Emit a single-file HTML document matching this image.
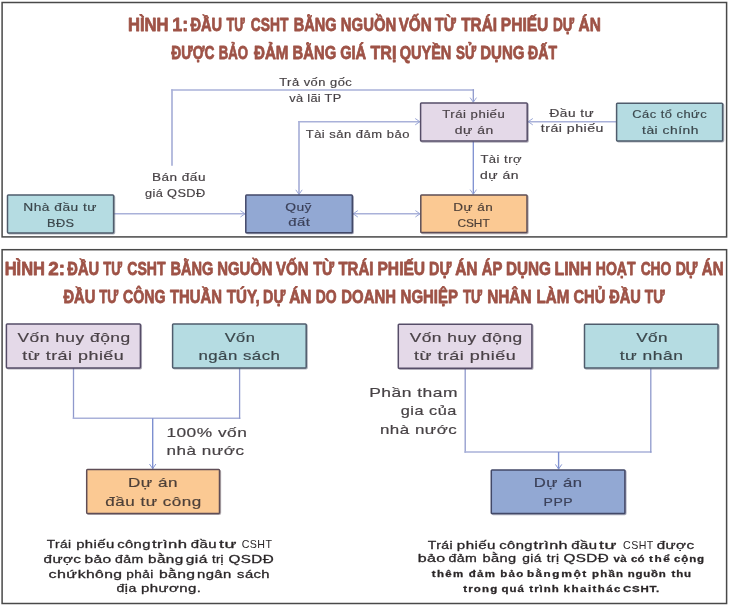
<!DOCTYPE html>
<html><head><meta charset="utf-8"><title>Hinh 1-2</title>
<style>
html,body{margin:0;padding:0;background:#fff;}
svg{display:block;font-family:"Liberation Sans",sans-serif;}
text{white-space:pre;}
</style></head>
<body>
<svg width="730" height="607" viewBox="0 0 730 607">
<defs><filter id="soft" x="0" y="0" width="730" height="607" filterUnits="userSpaceOnUse"><feGaussianBlur stdDeviation="0.4"/></filter></defs>
<rect x="0" y="0" width="730" height="607" fill="#ffffff"/>
<g filter="url(#soft)">
<rect x="-5" y="-5" width="740" height="617" fill="#ffffff"/>
<rect x="2.1" y="2.5" width="724.5" height="234.4" fill="#fff" stroke="#484848" stroke-width="1.5"/>
<rect x="2.1" y="249.7" width="724.5" height="353.8" fill="#fff" stroke="#484848" stroke-width="1.5"/>
<text x="128.01" y="31.4" font-size="19" fill="#9e5246" font-weight="bold" stroke="#9e5246" stroke-width="0.8" stroke-linejoin="round" textLength="40.51" lengthAdjust="spacingAndGlyphs">HÌNH</text>
<text x="172.30" y="31.4" font-size="19" fill="#9e5246" font-weight="bold" stroke="#9e5246" stroke-width="0.8" stroke-linejoin="round" textLength="15.81" lengthAdjust="spacingAndGlyphs">1:</text>
<text x="190.46" y="31.4" font-size="19" fill="#9e5246" font-weight="bold" stroke="#9e5246" stroke-width="0.8" stroke-linejoin="round" textLength="31.63" lengthAdjust="spacingAndGlyphs">ĐẦU</text>
<text x="226.46" y="31.4" font-size="19" fill="#9e5246" font-weight="bold" stroke="#9e5246" stroke-width="0.8" stroke-linejoin="round" textLength="18.23" lengthAdjust="spacingAndGlyphs">TƯ</text>
<text x="250.73" y="31.4" font-size="19" fill="#9e5246" font-weight="bold" stroke="#9e5246" stroke-width="0.8" stroke-linejoin="round" textLength="37.61" lengthAdjust="spacingAndGlyphs">CSHT</text>
<text x="293.84" y="31.4" font-size="19" fill="#9e5246" font-weight="bold" stroke="#9e5246" stroke-width="0.8" stroke-linejoin="round" textLength="42.85" lengthAdjust="spacingAndGlyphs">BẰNG</text>
<text x="340.82" y="31.4" font-size="19" fill="#9e5246" font-weight="bold" stroke="#9e5246" stroke-width="0.8" stroke-linejoin="round" textLength="55.49" lengthAdjust="spacingAndGlyphs">NGUỒN</text>
<text x="398.71" y="31.4" font-size="19" fill="#9e5246" font-weight="bold" stroke="#9e5246" stroke-width="0.8" stroke-linejoin="round" textLength="33.01" lengthAdjust="spacingAndGlyphs">VỐN</text>
<text x="434.84" y="31.4" font-size="19" fill="#9e5246" font-weight="bold" stroke="#9e5246" stroke-width="0.8" stroke-linejoin="round" textLength="21.15" lengthAdjust="spacingAndGlyphs">TỪ</text>
<text x="461.13" y="31.4" font-size="19" fill="#9e5246" font-weight="bold" stroke="#9e5246" stroke-width="0.8" stroke-linejoin="round" textLength="35.90" lengthAdjust="spacingAndGlyphs">TRÁI</text>
<text x="500.77" y="31.4" font-size="19" fill="#9e5246" font-weight="bold" stroke="#9e5246" stroke-width="0.8" stroke-linejoin="round" textLength="47.56" lengthAdjust="spacingAndGlyphs">PHIẾU</text>
<text x="553.00" y="31.4" font-size="19" fill="#9e5246" font-weight="bold" stroke="#9e5246" stroke-width="0.8" stroke-linejoin="round" textLength="21.20" lengthAdjust="spacingAndGlyphs">DỰ</text>
<text x="578.53" y="31.4" font-size="19" fill="#9e5246" font-weight="bold" stroke="#9e5246" stroke-width="0.8" stroke-linejoin="round" textLength="22.31" lengthAdjust="spacingAndGlyphs">ÁN</text>
<text x="171.26" y="58.6" font-size="19" fill="#9e5246" font-weight="bold" stroke="#9e5246" stroke-width="0.8" stroke-linejoin="round" textLength="43.11" lengthAdjust="spacingAndGlyphs">ĐƯỢC</text>
<text x="218.63" y="58.6" font-size="19" fill="#9e5246" font-weight="bold" stroke="#9e5246" stroke-width="0.8" stroke-linejoin="round" textLength="29.33" lengthAdjust="spacingAndGlyphs">BẢO</text>
<text x="253.95" y="58.6" font-size="19" fill="#9e5246" font-weight="bold" stroke="#9e5246" stroke-width="0.8" stroke-linejoin="round" textLength="34.55" lengthAdjust="spacingAndGlyphs">ĐẢM</text>
<text x="292.62" y="58.6" font-size="19" fill="#9e5246" font-weight="bold" stroke="#9e5246" stroke-width="0.8" stroke-linejoin="round" textLength="43.59" lengthAdjust="spacingAndGlyphs">BẰNG</text>
<text x="340.20" y="58.6" font-size="19" fill="#9e5246" font-weight="bold" stroke="#9e5246" stroke-width="0.8" stroke-linejoin="round" textLength="25.98" lengthAdjust="spacingAndGlyphs">GIÁ</text>
<text x="370.52" y="58.6" font-size="19" fill="#9e5246" font-weight="bold" stroke="#9e5246" stroke-width="0.8" stroke-linejoin="round" textLength="25.85" lengthAdjust="spacingAndGlyphs">TRỊ</text>
<text x="399.70" y="58.6" font-size="19" fill="#9e5246" font-weight="bold" stroke="#9e5246" stroke-width="0.8" stroke-linejoin="round" textLength="51.67" lengthAdjust="spacingAndGlyphs">QUYỀN</text>
<text x="456.02" y="58.6" font-size="19" fill="#9e5246" font-weight="bold" stroke="#9e5246" stroke-width="0.8" stroke-linejoin="round" textLength="20.07" lengthAdjust="spacingAndGlyphs">SỬ</text>
<text x="480.21" y="58.6" font-size="19" fill="#9e5246" font-weight="bold" stroke="#9e5246" stroke-width="0.8" stroke-linejoin="round" textLength="44.21" lengthAdjust="spacingAndGlyphs">DỤNG</text>
<text x="528.06" y="58.6" font-size="19" fill="#9e5246" font-weight="bold" stroke="#9e5246" stroke-width="0.8" stroke-linejoin="round" textLength="28.99" lengthAdjust="spacingAndGlyphs">ĐẤT</text>
<text x="4.71" y="275.4" font-size="19" fill="#9e5246" font-weight="bold" stroke="#9e5246" stroke-width="0.8" stroke-linejoin="round" textLength="40.30" lengthAdjust="spacingAndGlyphs">HÌNH</text>
<text x="48.36" y="275.4" font-size="19" fill="#9e5246" font-weight="bold" stroke="#9e5246" stroke-width="0.8" stroke-linejoin="round" textLength="16.75" lengthAdjust="spacingAndGlyphs">2:</text>
<text x="67.36" y="275.4" font-size="19" fill="#9e5246" font-weight="bold" stroke="#9e5246" stroke-width="0.8" stroke-linejoin="round" textLength="31.83" lengthAdjust="spacingAndGlyphs">ĐẦU</text>
<text x="103.36" y="275.4" font-size="19" fill="#9e5246" font-weight="bold" stroke="#9e5246" stroke-width="0.8" stroke-linejoin="round" textLength="18.74" lengthAdjust="spacingAndGlyphs">TƯ</text>
<text x="127.32" y="275.4" font-size="19" fill="#9e5246" font-weight="bold" stroke="#9e5246" stroke-width="0.8" stroke-linejoin="round" textLength="38.22" lengthAdjust="spacingAndGlyphs">CSHT</text>
<text x="170.44" y="275.4" font-size="19" fill="#9e5246" font-weight="bold" stroke="#9e5246" stroke-width="0.8" stroke-linejoin="round" textLength="42.96" lengthAdjust="spacingAndGlyphs">BẰNG</text>
<text x="217.22" y="275.4" font-size="19" fill="#9e5246" font-weight="bold" stroke="#9e5246" stroke-width="0.8" stroke-linejoin="round" textLength="55.38" lengthAdjust="spacingAndGlyphs">NGUỒN</text>
<text x="275.91" y="275.4" font-size="19" fill="#9e5246" font-weight="bold" stroke="#9e5246" stroke-width="0.8" stroke-linejoin="round" textLength="32.70" lengthAdjust="spacingAndGlyphs">VỐN</text>
<text x="313.14" y="275.4" font-size="19" fill="#9e5246" font-weight="bold" stroke="#9e5246" stroke-width="0.8" stroke-linejoin="round" textLength="21.05" lengthAdjust="spacingAndGlyphs">TỪ</text>
<text x="338.44" y="275.4" font-size="19" fill="#9e5246" font-weight="bold" stroke="#9e5246" stroke-width="0.8" stroke-linejoin="round" textLength="34.97" lengthAdjust="spacingAndGlyphs">TRÁI</text>
<text x="377.47" y="275.4" font-size="19" fill="#9e5246" font-weight="bold" stroke="#9e5246" stroke-width="0.8" stroke-linejoin="round" textLength="47.67" lengthAdjust="spacingAndGlyphs">PHIẾU</text>
<text x="429.05" y="275.4" font-size="19" fill="#9e5246" font-weight="bold" stroke="#9e5246" stroke-width="0.8" stroke-linejoin="round" textLength="22.35" lengthAdjust="spacingAndGlyphs">DỰ</text>
<text x="455.13" y="275.4" font-size="19" fill="#9e5246" font-weight="bold" stroke="#9e5246" stroke-width="0.8" stroke-linejoin="round" textLength="22.31" lengthAdjust="spacingAndGlyphs">ÁN</text>
<text x="481.84" y="275.4" font-size="19" fill="#9e5246" font-weight="bold" stroke="#9e5246" stroke-width="0.8" stroke-linejoin="round" textLength="20.67" lengthAdjust="spacingAndGlyphs">ÁP</text>
<text x="505.89" y="275.4" font-size="19" fill="#9e5246" font-weight="bold" stroke="#9e5246" stroke-width="0.8" stroke-linejoin="round" textLength="45.05" lengthAdjust="spacingAndGlyphs">DỤNG</text>
<text x="554.45" y="275.4" font-size="19" fill="#9e5246" font-weight="bold" stroke="#9e5246" stroke-width="0.8" stroke-linejoin="round" textLength="37.12" lengthAdjust="spacingAndGlyphs">LINH</text>
<text x="595.77" y="275.4" font-size="19" fill="#9e5246" font-weight="bold" stroke="#9e5246" stroke-width="0.8" stroke-linejoin="round" textLength="39.77" lengthAdjust="spacingAndGlyphs">HOẠT</text>
<text x="640.63" y="275.4" font-size="19" fill="#9e5246" font-weight="bold" stroke="#9e5246" stroke-width="0.8" stroke-linejoin="round" textLength="30.75" lengthAdjust="spacingAndGlyphs">CHO</text>
<text x="675.67" y="275.4" font-size="19" fill="#9e5246" font-weight="bold" stroke="#9e5246" stroke-width="0.8" stroke-linejoin="round" textLength="21.82" lengthAdjust="spacingAndGlyphs">DỰ</text>
<text x="701.74" y="275.4" font-size="19" fill="#9e5246" font-weight="bold" stroke="#9e5246" stroke-width="0.8" stroke-linejoin="round" textLength="21.88" lengthAdjust="spacingAndGlyphs">ÁN</text>
<text x="63.46" y="303.2" font-size="19" fill="#9e5246" font-weight="bold" stroke="#9e5246" stroke-width="0.8" stroke-linejoin="round" textLength="31.94" lengthAdjust="spacingAndGlyphs">ĐẦU</text>
<text x="99.25" y="303.2" font-size="19" fill="#9e5246" font-weight="bold" stroke="#9e5246" stroke-width="0.8" stroke-linejoin="round" textLength="19.04" lengthAdjust="spacingAndGlyphs">TƯ</text>
<text x="123.12" y="303.2" font-size="19" fill="#9e5246" font-weight="bold" stroke="#9e5246" stroke-width="0.8" stroke-linejoin="round" textLength="42.46" lengthAdjust="spacingAndGlyphs">CÔNG</text>
<text x="169.94" y="303.2" font-size="19" fill="#9e5246" font-weight="bold" stroke="#9e5246" stroke-width="0.8" stroke-linejoin="round" textLength="52.17" lengthAdjust="spacingAndGlyphs">THUẦN</text>
<text x="226.83" y="303.2" font-size="19" fill="#9e5246" font-weight="bold" stroke="#9e5246" stroke-width="0.8" stroke-linejoin="round" textLength="32.78" lengthAdjust="spacingAndGlyphs">TÚY,</text>
<text x="263.05" y="303.2" font-size="19" fill="#9e5246" font-weight="bold" stroke="#9e5246" stroke-width="0.8" stroke-linejoin="round" textLength="22.24" lengthAdjust="spacingAndGlyphs">DỰ</text>
<text x="289.13" y="303.2" font-size="19" fill="#9e5246" font-weight="bold" stroke="#9e5246" stroke-width="0.8" stroke-linejoin="round" textLength="22.42" lengthAdjust="spacingAndGlyphs">ÁN</text>
<text x="315.68" y="303.2" font-size="19" fill="#9e5246" font-weight="bold" stroke="#9e5246" stroke-width="0.8" stroke-linejoin="round" textLength="20.91" lengthAdjust="spacingAndGlyphs">DO</text>
<text x="341.32" y="303.2" font-size="19" fill="#9e5246" font-weight="bold" stroke="#9e5246" stroke-width="0.8" stroke-linejoin="round" textLength="54.69" lengthAdjust="spacingAndGlyphs">DOANH</text>
<text x="400.61" y="303.2" font-size="19" fill="#9e5246" font-weight="bold" stroke="#9e5246" stroke-width="0.8" stroke-linejoin="round" textLength="57.40" lengthAdjust="spacingAndGlyphs">NGHIỆP</text>
<text x="462.95" y="303.2" font-size="19" fill="#9e5246" font-weight="bold" stroke="#9e5246" stroke-width="0.8" stroke-linejoin="round" textLength="19.14" lengthAdjust="spacingAndGlyphs">TƯ</text>
<text x="487.19" y="303.2" font-size="19" fill="#9e5246" font-weight="bold" stroke="#9e5246" stroke-width="0.8" stroke-linejoin="round" textLength="44.34" lengthAdjust="spacingAndGlyphs">NHÂN</text>
<text x="536.60" y="303.2" font-size="19" fill="#9e5246" font-weight="bold" stroke="#9e5246" stroke-width="0.8" stroke-linejoin="round" textLength="32.80" lengthAdjust="spacingAndGlyphs">LÀM</text>
<text x="573.50" y="303.2" font-size="19" fill="#9e5246" font-weight="bold" stroke="#9e5246" stroke-width="0.8" stroke-linejoin="round" textLength="31.79" lengthAdjust="spacingAndGlyphs">CHỦ</text>
<text x="609.16" y="303.2" font-size="19" fill="#9e5246" font-weight="bold" stroke="#9e5246" stroke-width="0.8" stroke-linejoin="round" textLength="31.73" lengthAdjust="spacingAndGlyphs">ĐẦU</text>
<text x="644.75" y="303.2" font-size="19" fill="#9e5246" font-weight="bold" stroke="#9e5246" stroke-width="0.8" stroke-linejoin="round" textLength="19.94" lengthAdjust="spacingAndGlyphs">TƯ</text>
<line x1="172.0" y1="165.0" x2="172.0" y2="90.0" stroke="#8f99cc" stroke-width="1.3" stroke-linecap="square"/><line x1="172.0" y1="90.0" x2="473.3" y2="90.0" stroke="#a9b1d9" stroke-width="1.5" stroke-linecap="square"/><line x1="473.3" y1="90.0" x2="473.3" y2="101.5" stroke="#8f99cc" stroke-width="1.3" stroke-linecap="square"/>
<polyline points="470.1,97.6 473.3,102.2 476.5,97.6" fill="none" stroke="#9ba7d7" stroke-width="1.0" stroke-linejoin="miter"/>
<line x1="299.0" y1="194.0" x2="299.0" y2="121.7" stroke="#8f99cc" stroke-width="1.3" stroke-linecap="square"/><line x1="299.0" y1="121.7" x2="419.5" y2="121.7" stroke="#a9b1d9" stroke-width="1.5" stroke-linecap="square"/>
<polyline points="295.8,189.8 299.0,194.4 302.2,189.8" fill="none" stroke="#9ba7d7" stroke-width="1.0" stroke-linejoin="miter"/>
<polyline points="415.2,118.5 419.8,121.7 415.2,124.9" fill="none" stroke="#9ba7d7" stroke-width="1.0" stroke-linejoin="miter"/>
<line x1="528.6" y1="121.7" x2="616.0" y2="121.7" stroke="#a9b1d9" stroke-width="1.5" stroke-linecap="square"/>
<polyline points="532.8,118.5 528.2,121.7 532.8,124.9" fill="none" stroke="#9ba7d7" stroke-width="1.0" stroke-linejoin="miter"/>
<line x1="473.3" y1="141.8" x2="473.3" y2="193.8" stroke="#7d8fd0" stroke-width="1.3" stroke-linecap="square"/>
<polyline points="470.1,189.6 473.3,194.2 476.5,189.6" fill="none" stroke="#9ba7d7" stroke-width="1.0" stroke-linejoin="miter"/>
<line x1="114.5" y1="213.8" x2="244.5" y2="213.8" stroke="#a9b1d9" stroke-width="1.5" stroke-linecap="square"/>
<polyline points="240.4,210.6 245.0,213.8 240.4,217.0" fill="none" stroke="#9ba7d7" stroke-width="1.0" stroke-linejoin="miter"/>
<line x1="353.5" y1="213.8" x2="419.8" y2="213.8" stroke="#a9b1d9" stroke-width="1.5" stroke-linecap="square"/>
<polyline points="357.8,210.6 353.2,213.8 357.8,217.0" fill="none" stroke="#9ba7d7" stroke-width="1.0" stroke-linejoin="miter"/>
<polyline points="415.4,210.6 420.0,213.8 415.4,217.0" fill="none" stroke="#9ba7d7" stroke-width="1.0" stroke-linejoin="miter"/>
<rect x="421.5" y="103.8" width="106.6" height="38.1" rx="1" fill="none" stroke="#564e68" stroke-opacity="0.45" stroke-width="1.5"/><rect x="420.6" y="102.9" width="106.6" height="38.1" rx="0.8" fill="#e4d9e8" stroke="#564e68" stroke-width="1.5"/>
<rect x="617.5" y="104.1" width="106.0" height="37.7" rx="1" fill="none" stroke="#4f5c6c" stroke-opacity="0.45" stroke-width="1.5"/><rect x="616.6" y="103.2" width="106.0" height="37.7" rx="0.8" fill="#b5dce2" stroke="#4f5c6c" stroke-width="1.5"/>
<rect x="8.4" y="195.9" width="106.1" height="37.9" rx="1" fill="none" stroke="#4f5c6c" stroke-opacity="0.45" stroke-width="1.5"/><rect x="7.5" y="195.0" width="106.1" height="37.9" rx="0.8" fill="#b5dce2" stroke="#4f5c6c" stroke-width="1.5"/>
<rect x="246.7" y="196.0" width="106.5" height="37.6" rx="1" fill="none" stroke="#434868" stroke-opacity="0.45" stroke-width="1.5"/><rect x="245.8" y="195.1" width="106.5" height="37.6" rx="0.8" fill="#92a8d3" stroke="#434868" stroke-width="1.5"/>
<rect x="421.7" y="195.8" width="106.2" height="37.7" rx="1" fill="none" stroke="#5e4e56" stroke-opacity="0.45" stroke-width="1.5"/><rect x="420.8" y="194.9" width="106.2" height="37.7" rx="0.8" fill="#fbc993" stroke="#5e4e56" stroke-width="1.5"/>
<text transform="translate(442.31,117.8) scale(1.1630,1)" font-size="11.3" fill="#4a4247" font-weight="normal" stroke="#4a4247" stroke-width="0.18" stroke-linejoin="round" letter-spacing="0.430">Trái phiếu</text>
<text transform="translate(454.82,133.8) scale(1.2305,1)" font-size="11.3" fill="#4a4247" font-weight="normal" stroke="#4a4247" stroke-width="0.18" stroke-linejoin="round" letter-spacing="0.406">dự án</text>
<text transform="translate(632.16,117.9) scale(1.1416,1)" font-size="11.3" fill="#3b474c" font-weight="normal" stroke="#3b474c" stroke-width="0.18" stroke-linejoin="round" letter-spacing="0.438">Các tổ chức</text>
<text transform="translate(642.09,133.7) scale(1.2243,1)" font-size="11.3" fill="#3b474c" font-weight="normal" stroke="#3b474c" stroke-width="0.18" stroke-linejoin="round" letter-spacing="0.408">tài chính</text>
<text transform="translate(23.27,210.5) scale(1.2172,1)" font-size="11.3" fill="#3b474c" font-weight="normal" stroke="#3b474c" stroke-width="0.18" stroke-linejoin="round" letter-spacing="0.411">Nhà đầu tư</text>
<text transform="translate(47.05,226.8) scale(1.1300,1)" font-size="11.3" fill="#3b474c" font-weight="normal" stroke="#3b474c" stroke-width="0.18" stroke-linejoin="round" letter-spacing="0.340">BĐS</text>
<text transform="translate(285.15,210.8) scale(1.2246,1)" font-size="11.3" fill="#3b4159" font-weight="normal" stroke="#3b4159" stroke-width="0.18" stroke-linejoin="round" letter-spacing="0.408">Quỹ</text>
<text transform="translate(288.17,226.3) scale(1.3198,1)" font-size="11.3" fill="#3b4159" font-weight="normal" stroke="#3b4159" stroke-width="0.18" stroke-linejoin="round" letter-spacing="0.379">đất</text>
<text transform="translate(453.29,210.6) scale(1.1952,1)" font-size="11.3" fill="#4e4038" font-weight="normal" stroke="#4e4038" stroke-width="0.18" stroke-linejoin="round" letter-spacing="0.418">Dự án</text>
<text transform="translate(457.41,226.6) scale(1.0490,1)" font-size="11.3" fill="#4e4038" font-weight="normal" stroke="#4e4038" stroke-width="0.18" stroke-linejoin="round" letter-spacing="0.000">CSHT</text>
<text transform="translate(279.22,85.8) scale(1.1413,1)" font-size="11.3" fill="#474245" font-weight="normal" stroke="#474245" stroke-width="0.18" stroke-linejoin="round" letter-spacing="0.438">Trả vốn gốc</text>
<text transform="translate(289.26,102.2) scale(1.1300,1)" font-size="11.3" fill="#474245" font-weight="normal" stroke="#474245" stroke-width="0.18" stroke-linejoin="round" letter-spacing="0.283">và lãi TP</text>
<text transform="translate(305.71,138.1) scale(1.1502,1)" font-size="11.3" fill="#474245" font-weight="normal" stroke="#474245" stroke-width="0.18" stroke-linejoin="round" letter-spacing="0.435">Tài sản đảm bảo</text>
<text transform="translate(151.89,180.6) scale(1.2024,1)" font-size="11.3" fill="#474245" font-weight="normal" stroke="#474245" stroke-width="0.18" stroke-linejoin="round" letter-spacing="0.416">Bán đấu</text>
<text transform="translate(144.96,197.0) scale(1.1300,1)" font-size="11.3" fill="#474245" font-weight="normal" stroke="#474245" stroke-width="0.18" stroke-linejoin="round" letter-spacing="0.349">giá QSDĐ</text>
<text transform="translate(549.52,116.5) scale(1.2090,1)" font-size="11.3" fill="#474245" font-weight="normal" stroke="#474245" stroke-width="0.18" stroke-linejoin="round" letter-spacing="0.414">Đầu tư</text>
<text transform="translate(540.79,131.7) scale(1.2529,1)" font-size="11.3" fill="#474245" font-weight="normal" stroke="#474245" stroke-width="0.18" stroke-linejoin="round" letter-spacing="0.399">trái phiếu</text>
<text transform="translate(480.41,162.6) scale(1.1511,1)" font-size="11.3" fill="#474245" font-weight="normal" stroke="#474245" stroke-width="0.18" stroke-linejoin="round" letter-spacing="0.434">Tài trợ</text>
<text transform="translate(480.11,179.0) scale(1.2340,1)" font-size="11.3" fill="#474245" font-weight="normal" stroke="#474245" stroke-width="0.18" stroke-linejoin="round" letter-spacing="0.405">dự án</text>
<line x1="73.5" y1="368.5" x2="73.5" y2="418.2" stroke="#8f99cc" stroke-width="1.3" stroke-linecap="square"/><line x1="73.5" y1="418.2" x2="239.6" y2="418.2" stroke="#a9b1d9" stroke-width="1.5" stroke-linecap="square"/><line x1="239.6" y1="418.2" x2="239.6" y2="368.5" stroke="#8f99cc" stroke-width="1.3" stroke-linecap="square"/>
<line x1="152.7" y1="418.9" x2="152.7" y2="468.2" stroke="#7d8fd0" stroke-width="1.4" stroke-linecap="square"/>
<polyline points="149.5,464.0 152.7,468.6 155.9,464.0" fill="none" stroke="#8797d2" stroke-width="1.0" stroke-linejoin="miter"/>
<line x1="465.2" y1="369.0" x2="465.2" y2="452.0" stroke="#8f99cc" stroke-width="1.3" stroke-linecap="square"/><line x1="465.2" y1="452.0" x2="650.8" y2="452.0" stroke="#a9b1d9" stroke-width="1.5" stroke-linecap="square"/><line x1="650.8" y1="452.0" x2="650.8" y2="369.0" stroke="#8f99cc" stroke-width="1.3" stroke-linecap="square"/>
<line x1="558.6" y1="452.7" x2="558.6" y2="468.6" stroke="#7d8fd0" stroke-width="1.4" stroke-linecap="square"/>
<polyline points="555.4,464.4 558.6,469.0 561.8,464.4" fill="none" stroke="#8797d2" stroke-width="1.0" stroke-linejoin="miter"/>
<rect x="7.3" y="324.8" width="134.0" height="44.0" rx="1" fill="none" stroke="#564e68" stroke-opacity="0.45" stroke-width="1.5"/><rect x="6.4" y="323.9" width="134.0" height="44.0" rx="0.8" fill="#e4d9e8" stroke="#564e68" stroke-width="1.5"/>
<rect x="173.5" y="324.8" width="133.6" height="44.0" rx="1" fill="none" stroke="#4f5c6c" stroke-opacity="0.45" stroke-width="1.5"/><rect x="172.6" y="323.9" width="133.6" height="44.0" rx="0.8" fill="#b5dce2" stroke="#4f5c6c" stroke-width="1.5"/>
<rect x="399.2" y="325.1" width="133.6" height="44.1" rx="1" fill="none" stroke="#564e68" stroke-opacity="0.45" stroke-width="1.5"/><rect x="398.3" y="324.2" width="133.6" height="44.1" rx="0.8" fill="#e4d9e8" stroke="#564e68" stroke-width="1.5"/>
<rect x="585.4" y="325.1" width="133.5" height="43.9" rx="1" fill="none" stroke="#4f5c6c" stroke-opacity="0.45" stroke-width="1.5"/><rect x="584.5" y="324.2" width="133.5" height="43.9" rx="0.8" fill="#b5dce2" stroke="#4f5c6c" stroke-width="1.5"/>
<rect x="87.6" y="470.5" width="132.8" height="43.8" rx="1" fill="none" stroke="#5e4e56" stroke-opacity="0.45" stroke-width="1.5"/><rect x="86.7" y="469.6" width="132.8" height="43.8" rx="0.8" fill="#fbc993" stroke="#5e4e56" stroke-width="1.5"/>
<rect x="492.2" y="470.8" width="133.6" height="43.6" rx="1" fill="none" stroke="#434868" stroke-opacity="0.45" stroke-width="1.5"/><rect x="491.3" y="469.9" width="133.6" height="43.6" rx="0.8" fill="#92a8d3" stroke="#434868" stroke-width="1.5"/>
<text transform="translate(17.43,342.2) scale(1.3795,1)" font-size="12.6" fill="#4a4247" font-weight="normal" stroke="#4a4247" stroke-width="0.18" stroke-linejoin="round" letter-spacing="0.362">Vốn huy động</text>
<text transform="translate(22.23,359.8) scale(1.4219,1)" font-size="12.6" fill="#4a4247" font-weight="normal" stroke="#4a4247" stroke-width="0.18" stroke-linejoin="round" letter-spacing="0.352">từ trái phiếu</text>
<text transform="translate(224.63,341.8) scale(1.3081,1)" font-size="12.6" fill="#3b474c" font-weight="normal" stroke="#3b474c" stroke-width="0.18" stroke-linejoin="round" letter-spacing="0.382">Vốn</text>
<text transform="translate(198.39,360.0) scale(1.3343,1)" font-size="12.6" fill="#3b474c" font-weight="normal" stroke="#3b474c" stroke-width="0.18" stroke-linejoin="round" letter-spacing="0.375">ngân sách</text>
<text transform="translate(409.63,342.4) scale(1.3782,1)" font-size="12.6" fill="#4a4247" font-weight="normal" stroke="#4a4247" stroke-width="0.18" stroke-linejoin="round" letter-spacing="0.363">Vốn huy động</text>
<text transform="translate(413.93,360.2) scale(1.4249,1)" font-size="12.6" fill="#4a4247" font-weight="normal" stroke="#4a4247" stroke-width="0.18" stroke-linejoin="round" letter-spacing="0.351">từ trái phiếu</text>
<text transform="translate(636.13,342.2) scale(1.3637,1)" font-size="12.6" fill="#3b474c" font-weight="normal" stroke="#3b474c" stroke-width="0.18" stroke-linejoin="round" letter-spacing="0.367">Vốn</text>
<text transform="translate(619.74,360.2) scale(1.3844,1)" font-size="12.6" fill="#3b474c" font-weight="normal" stroke="#3b474c" stroke-width="0.18" stroke-linejoin="round" letter-spacing="0.361">tư nhân</text>
<text transform="translate(166.38,437.4) scale(1.3743,1)" font-size="12.6" fill="#474245" font-weight="normal" stroke="#474245" stroke-width="0.18" stroke-linejoin="round" letter-spacing="0.364">100% vốn</text>
<text transform="translate(166.57,455.2) scale(1.3565,1)" font-size="12.6" fill="#474245" font-weight="normal" stroke="#474245" stroke-width="0.18" stroke-linejoin="round" letter-spacing="0.369">nhà nước</text>
<text transform="translate(127.90,486.7) scale(1.3579,1)" font-size="12.6" fill="#4e4038" font-weight="normal" stroke="#4e4038" stroke-width="0.18" stroke-linejoin="round" letter-spacing="0.368">Dự án</text>
<text transform="translate(105.28,505.6) scale(1.3541,1)" font-size="12.6" fill="#4e4038" font-weight="normal" stroke="#4e4038" stroke-width="0.18" stroke-linejoin="round" letter-spacing="0.369">đầu tư công</text>
<text transform="translate(369.17,396.6) scale(1.3845,1)" font-size="12.6" fill="#474245" font-weight="normal" stroke="#474245" stroke-width="0.18" stroke-linejoin="round" letter-spacing="0.361">Phần tham</text>
<text transform="translate(400.71,415.3) scale(1.2966,1)" font-size="12.6" fill="#474245" font-weight="normal" stroke="#474245" stroke-width="0.18" stroke-linejoin="round" letter-spacing="0.386">gia của</text>
<text transform="translate(379.88,433.8) scale(1.3471,1)" font-size="12.6" fill="#474245" font-weight="normal" stroke="#474245" stroke-width="0.18" stroke-linejoin="round" letter-spacing="0.371">nhà nước</text>
<text transform="translate(533.63,486.5) scale(1.3248,1)" font-size="12.6" fill="#3b4159" font-weight="normal" stroke="#3b4159" stroke-width="0.18" stroke-linejoin="round" letter-spacing="0.377">Dự án</text>
<text transform="translate(543.55,505.8) scale(1.2419,1)" font-size="11.3" fill="#3b4159" font-weight="normal" stroke="#3b4159" stroke-width="0.18" stroke-linejoin="round" letter-spacing="0.403">PPP</text>
<text transform="translate(46.80,548.4) scale(1.1576,1)" font-size="11.8" fill="#2a2628" font-weight="normal" stroke="#2a2628" stroke-width="0.3" stroke-linejoin="round" letter-spacing="0.346">Trái</text>
<text transform="translate(76.15,548.4) scale(1.2619,1)" font-size="11.8" fill="#2a2628" font-weight="normal" stroke="#2a2628" stroke-width="0.3" stroke-linejoin="round" letter-spacing="0.317">phiếu</text>
<text transform="translate(117.18,548.4) scale(1.2494,1)" font-size="11.8" fill="#2a2628" font-weight="normal" stroke="#2a2628" stroke-width="0.3" stroke-linejoin="round" letter-spacing="0.320">công</text>
<text transform="translate(152.05,548.4) scale(1.4154,1)" font-size="11.8" fill="#2a2628" font-weight="normal" stroke="#2a2628" stroke-width="0.3" stroke-linejoin="round" letter-spacing="0.283">trình</text>
<text transform="translate(190.87,548.4) scale(1.2658,1)" font-size="11.8" fill="#2a2628" font-weight="normal" stroke="#2a2628" stroke-width="0.3" stroke-linejoin="round" letter-spacing="0.316">đầu</text>
<text transform="translate(219.03,548.4) scale(1.5126,1)" font-size="11.8" fill="#2a2628" font-weight="normal" stroke="#2a2628" stroke-width="0.3" stroke-linejoin="round" letter-spacing="0.264">tư</text>
<text transform="translate(241.67,548.4) scale(1.0683,1)" font-size="10.0" fill="#2a2628" font-weight="normal" letter-spacing="0.374">CSHT</text>
<text transform="translate(43.56,563.3) scale(1.2897,1)" font-size="11.8" fill="#2a2628" font-weight="normal" stroke="#2a2628" stroke-width="0.3" stroke-linejoin="round" letter-spacing="0.310">được</text>
<text transform="translate(84.40,563.3) scale(1.3230,1)" font-size="11.8" fill="#2a2628" font-weight="normal" stroke="#2a2628" stroke-width="0.3" stroke-linejoin="round" letter-spacing="0.302">bảo</text>
<text transform="translate(115.11,563.3) scale(1.1942,1)" font-size="11.8" fill="#2a2628" font-weight="normal" stroke="#2a2628" stroke-width="0.3" stroke-linejoin="round" letter-spacing="0.335">đảm</text>
<text transform="translate(148.02,563.3) scale(1.2938,1)" font-size="11.8" fill="#2a2628" font-weight="normal" stroke="#2a2628" stroke-width="0.3" stroke-linejoin="round" letter-spacing="0.309">bằng</text>
<text transform="translate(185.75,563.3) scale(1.3174,1)" font-size="11.8" fill="#2a2628" font-weight="normal" stroke="#2a2628" stroke-width="0.3" stroke-linejoin="round" letter-spacing="0.304">giá</text>
<text transform="translate(211.91,563.3) scale(1.1000,1)" font-size="11.8" fill="#2a2628" font-weight="normal" stroke="#2a2628" stroke-width="0.3" stroke-linejoin="round" letter-spacing="0.342">trị</text>
<text transform="translate(228.48,563.3) scale(1.2917,1)" font-size="11.8" fill="#2a2628" font-weight="normal" stroke="#2a2628" stroke-width="0.3" stroke-linejoin="round" letter-spacing="0.310">QSDĐ</text>
<text transform="translate(48.52,577.7) scale(1.3637,1)" font-size="11.8" fill="#2a2628" font-weight="normal" stroke="#2a2628" stroke-width="0.3" stroke-linejoin="round" letter-spacing="0.293">chứ</text>
<text transform="translate(77.75,577.7) scale(1.3302,1)" font-size="11.8" fill="#2a2628" font-weight="normal" stroke="#2a2628" stroke-width="0.3" stroke-linejoin="round" letter-spacing="0.301">không</text>
<text transform="translate(126.23,577.7) scale(1.1563,1)" font-size="11.8" fill="#2a2628" font-weight="normal" stroke="#2a2628" stroke-width="0.3" stroke-linejoin="round" letter-spacing="0.346">phải</text>
<text transform="translate(158.90,577.7) scale(1.3302,1)" font-size="11.8" fill="#2a2628" font-weight="normal" stroke="#2a2628" stroke-width="0.3" stroke-linejoin="round" letter-spacing="0.301">bằng</text>
<text transform="translate(197.02,577.7) scale(1.2586,1)" font-size="11.8" fill="#2a2628" font-weight="normal" stroke="#2a2628" stroke-width="0.3" stroke-linejoin="round" letter-spacing="0.318">ngân</text>
<text transform="translate(237.10,577.7) scale(1.2538,1)" font-size="11.8" fill="#2a2628" font-weight="normal" stroke="#2a2628" stroke-width="0.3" stroke-linejoin="round" letter-spacing="0.319">sách</text>
<text transform="translate(116.61,591.6) scale(1.1994,1)" font-size="11.8" fill="#2a2628" font-weight="normal" stroke="#2a2628" stroke-width="0.3" stroke-linejoin="round" letter-spacing="0.333">địa</text>
<text transform="translate(141.04,591.6) scale(1.2736,1)" font-size="11.8" fill="#2a2628" font-weight="normal" stroke="#2a2628" stroke-width="0.3" stroke-linejoin="round" letter-spacing="0.314">phương.</text>
<text transform="translate(427.69,548.5) scale(1.1894,1)" font-size="11.8" fill="#2a2628" font-weight="normal" stroke="#2a2628" stroke-width="0.3" stroke-linejoin="round" letter-spacing="0.336">Trái</text>
<text transform="translate(456.83,548.5) scale(1.2801,1)" font-size="11.8" fill="#2a2628" font-weight="normal" stroke="#2a2628" stroke-width="0.3" stroke-linejoin="round" letter-spacing="0.312">phiếu</text>
<text transform="translate(499.28,548.5) scale(1.2535,1)" font-size="11.8" fill="#2a2628" font-weight="normal" stroke="#2a2628" stroke-width="0.3" stroke-linejoin="round" letter-spacing="0.319">công</text>
<text transform="translate(533.56,548.5) scale(1.3713,1)" font-size="11.8" fill="#2a2628" font-weight="normal" stroke="#2a2628" stroke-width="0.3" stroke-linejoin="round" letter-spacing="0.292">trình</text>
<text transform="translate(571.27,548.5) scale(1.2658,1)" font-size="11.8" fill="#2a2628" font-weight="normal" stroke="#2a2628" stroke-width="0.3" stroke-linejoin="round" letter-spacing="0.316">đầu</text>
<text transform="translate(599.03,548.5) scale(1.5126,1)" font-size="11.8" fill="#2a2628" font-weight="normal" stroke="#2a2628" stroke-width="0.3" stroke-linejoin="round" letter-spacing="0.264">tư</text>
<text transform="translate(656.76,548.5) scale(1.2824,1)" font-size="11.8" fill="#2a2628" font-weight="normal" stroke="#2a2628" stroke-width="0.3" stroke-linejoin="round" letter-spacing="0.312">được</text>
<text transform="translate(623.07,548.5) scale(1.0646,1)" font-size="10.0" fill="#2a2628" font-weight="normal" letter-spacing="0.376">CSHT</text>
<text transform="translate(417.78,562.2) scale(1.3555,1)" font-size="11.8" fill="#2a2628" font-weight="normal" stroke="#2a2628" stroke-width="0.3" stroke-linejoin="round" letter-spacing="0.295">bảo</text>
<text transform="translate(448.41,562.2) scale(1.1988,1)" font-size="11.8" fill="#2a2628" font-weight="normal" stroke="#2a2628" stroke-width="0.3" stroke-linejoin="round" letter-spacing="0.334">đảm</text>
<text transform="translate(482.47,562.2) scale(1.2372,1)" font-size="11.8" fill="#2a2628" font-weight="normal" stroke="#2a2628" stroke-width="0.3" stroke-linejoin="round" letter-spacing="0.323">bằng</text>
<text transform="translate(522.32,562.2) scale(1.1666,1)" font-size="11.8" fill="#2a2628" font-weight="normal" stroke="#2a2628" stroke-width="0.3" stroke-linejoin="round" letter-spacing="0.343">giá</text>
<text transform="translate(546.80,562.2) scale(1.1510,1)" font-size="11.8" fill="#2a2628" font-weight="normal" stroke="#2a2628" stroke-width="0.3" stroke-linejoin="round" letter-spacing="0.348">trị</text>
<text transform="translate(563.48,562.2) scale(1.2947,1)" font-size="11.8" fill="#2a2628" font-weight="normal" stroke="#2a2628" stroke-width="0.3" stroke-linejoin="round" letter-spacing="0.309">QSDĐ</text>
<text transform="translate(613.57,562.2) scale(1.2500,1)" font-size="9.2" fill="#2a2628" font-weight="bold" stroke="#2a2628" stroke-width="0.25" stroke-linejoin="round" letter-spacing="0.250">và</text>
<text transform="translate(631.05,562.2) scale(1.2500,1)" font-size="9.2" fill="#2a2628" font-weight="bold" stroke="#2a2628" stroke-width="0.25" stroke-linejoin="round" letter-spacing="0.141">có</text>
<text transform="translate(648.96,562.2) scale(1.2901,1)" font-size="9.2" fill="#2a2628" font-weight="bold" stroke="#2a2628" stroke-width="0.25" stroke-linejoin="round" letter-spacing="1.163">thể</text>
<text transform="translate(674.05,562.2) scale(1.2500,1)" font-size="9.2" fill="#2a2628" font-weight="bold" stroke="#2a2628" stroke-width="0.25" stroke-linejoin="round" letter-spacing="0.705">cộng</text>
<text transform="translate(431.76,577.0) scale(1.2500,1)" font-size="9.2" fill="#2a2628" font-weight="bold" stroke="#2a2628" stroke-width="0.25" stroke-linejoin="round" letter-spacing="1.084">thêm</text>
<text transform="translate(468.73,577.0) scale(1.2500,1)" font-size="9.2" fill="#2a2628" font-weight="bold" stroke="#2a2628" stroke-width="0.25" stroke-linejoin="round" letter-spacing="1.092">đảm</text>
<text transform="translate(500.25,577.0) scale(1.2500,1)" font-size="9.2" fill="#2a2628" font-weight="bold" stroke="#2a2628" stroke-width="0.25" stroke-linejoin="round" letter-spacing="1.060">bảo</text>
<text transform="translate(526.94,577.0) scale(1.2714,1)" font-size="9.2" fill="#2a2628" font-weight="bold" stroke="#2a2628" stroke-width="0.25" stroke-linejoin="round" letter-spacing="1.180">bằng</text>
<text transform="translate(561.22,577.0) scale(1.3123,1)" font-size="9.2" fill="#2a2628" font-weight="bold" stroke="#2a2628" stroke-width="0.25" stroke-linejoin="round" letter-spacing="1.143">một</text>
<text transform="translate(591.95,577.0) scale(1.2500,1)" font-size="9.2" fill="#2a2628" font-weight="bold" stroke="#2a2628" stroke-width="0.25" stroke-linejoin="round" letter-spacing="0.957">phần</text>
<text transform="translate(627.75,577.0) scale(1.2500,1)" font-size="9.2" fill="#2a2628" font-weight="bold" stroke="#2a2628" stroke-width="0.25" stroke-linejoin="round" letter-spacing="0.588">nguồn</text>
<text transform="translate(671.46,577.0) scale(1.2500,1)" font-size="9.2" fill="#2a2628" font-weight="bold" stroke="#2a2628" stroke-width="0.25" stroke-linejoin="round" letter-spacing="0.686">thu</text>
<text transform="translate(463.16,591.5) scale(1.2500,1)" font-size="9.2" fill="#2a2628" font-weight="bold" stroke="#2a2628" stroke-width="0.25" stroke-linejoin="round" letter-spacing="0.965">trong</text>
<text transform="translate(501.53,591.5) scale(1.2500,1)" font-size="9.2" fill="#2a2628" font-weight="bold" stroke="#2a2628" stroke-width="0.25" stroke-linejoin="round" letter-spacing="0.796">quá</text>
<text transform="translate(529.36,591.5) scale(1.2500,1)" font-size="9.2" fill="#2a2628" font-weight="bold" stroke="#2a2628" stroke-width="0.25" stroke-linejoin="round" letter-spacing="0.760">trình</text>
<text transform="translate(563.39,591.5) scale(1.2726,1)" font-size="9.2" fill="#2a2628" font-weight="bold" stroke="#2a2628" stroke-width="0.25" stroke-linejoin="round" letter-spacing="1.179">khai</text>
<text transform="translate(592.56,591.5) scale(1.2500,1)" font-size="9.2" fill="#2a2628" font-weight="bold" stroke="#2a2628" stroke-width="0.25" stroke-linejoin="round" letter-spacing="1.127">thác</text>
<text transform="translate(622.93,591.5) scale(1.2500,1)" font-size="9.2" fill="#2a2628" font-weight="bold" stroke="#2a2628" stroke-width="0.25" stroke-linejoin="round" letter-spacing="0.628">CSHT.</text>
</g>
</svg>
</body></html>
